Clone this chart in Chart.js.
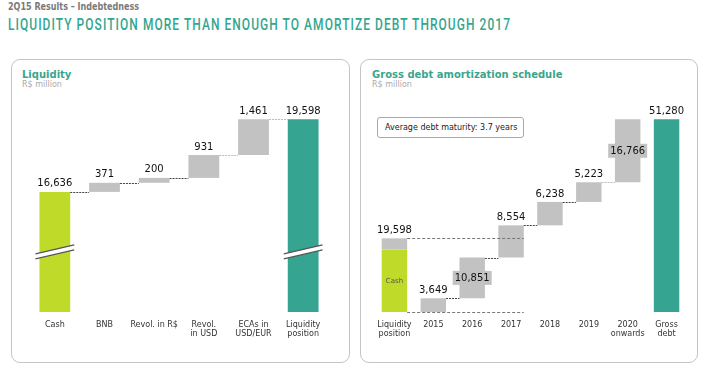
<!DOCTYPE html>
<html><head><meta charset="utf-8">
<script src="https://cdn.jsdelivr.net/npm/chart.js@4/dist/chart.umd.min.js"></script>
<style>
html,body{margin:0;padding:0;background:#fff;width:713px;height:381px;overflow:hidden;font-family:"DejaVu Sans",sans-serif;}
#hdr{position:absolute;left:8px;top:1px;font:bold 10.5px "DejaVu Sans",sans-serif;line-height:10.5px;color:#7a7a7a;white-space:nowrap;transform-origin:0 0;}
#title{position:absolute;left:8px;top:16px;font:500 17px "Roboto",sans-serif;line-height:17px;color:#33a690;letter-spacing:1.5px;white-space:nowrap;transform-origin:0 0;}
.panel{position:absolute;top:59px;height:302px;border:1px solid #c4c4c4;border-radius:9px;background:#fff;}
#p1{left:11px;width:337px;}
#p2{left:360px;width:336px;}
.ptitle{position:absolute;top:70px;font:bold 10px "DejaVu Sans";line-height:10px;color:#3aa58f;white-space:nowrap;}
.psub{position:absolute;top:81px;font:8px "DejaVu Sans";line-height:8px;color:#aaa;white-space:nowrap;}
canvas{position:absolute;}
#note{position:absolute;left:377px;top:117px;width:138px;height:19px;border:1px solid #a8a8a8;border-radius:3px;font:8px "DejaVu Sans";line-height:19px;color:#222;padding-left:7px;white-space:nowrap;background:#fff;}
</style></head>
<body>
<div id="hdr">2Q15 Results – Indebtedness</div>
<div id="title">LIQUIDITY POSITION MORE THAN ENOUGH TO AMORTIZE DEBT THROUGH 2017</div>
<div class="panel" id="p1"></div>
<div class="panel" id="p2"></div>
<div class="ptitle" style="left:22px">Liquidity</div>
<div class="psub" style="left:22px">R$ million</div>
<div class="ptitle" style="left:372px">Gross debt amortization schedule</div>
<div class="psub" style="left:372px">R$ million</div>
<canvas id="c1" width="337" height="300" style="left:12px;top:60px"></canvas>
<canvas id="c2" width="336" height="300" style="left:361px;top:60px"></canvas>
<div id="note">Average debt maturity: 3.7 years</div>
<script>
// ---- data: Liquidity ----
const liqLabels = ['Cash', 'BNB', 'Revol. in R$', ['Revol.', 'in USD'], ['ECAs in', 'USD/EUR'], ['Liquidity', 'position']];
const liqValues = [16636, 371, 200, 931, 1461, 19598];
const liqKinds = ['total', 'step', 'step', 'step', 'step', 'total'];
const liqAxisMin = 11740, liqAxisMax = 20790;

// ---- data: Gross debt amortization ----
const debtLabels = [['Liquidity', 'position'], '2015', '2016', '2017', '2018', '2019', ['2020', 'onwards'], ['Gross', 'debt']];
const debtValues = [19598, 3649, 10851, 8554, 6238, 5223, 16766, 51280];
const debtKinds = ['total', 'step', 'step', 'step', 'step', 'step', 'step', 'total'];
const debtCash = 16636;
const debtLabelInside = [false, false, true, false, false, false, true, false];
const debtAxisMax = 59070;

const GREEN = '#c0da2a', TEAL = '#35a591', GRAY = '#c2c2c2';
const fmt = v => v.toLocaleString('en-US');

function waterfall(values, kinds, startRun) {
  let run = startRun || 0; const out = [], tops = [];
  values.forEach((v, i) => {
    if (kinds[i] === 'total') { out.push(v); run = v; }
    else { out.push([run, run + v]); run += v; }
    tops.push(run);
  });
  return {data: out, tops};
}

function makeWf(o) {
  return {
    id: 'wf',
    afterDatasetsDraw(chart) {
      const ctx = chart.ctx, ys = chart.scales.y, meta = chart.getDatasetMeta(0).data;
      ctx.save();
      // axis breaks
      (o.breaks || []).forEach(i => {
        const b = meta[i]; const yc = (chart.chartArea.bottom + ys.getPixelForValue(o.breakRef)) / 2;
        const x0 = b.x - b.width / 2 - 4, x1 = b.x + b.width / 2 + 4, s = 4.5, g = 2.5;
        ctx.fillStyle = '#fff';
        ctx.beginPath(); ctx.moveTo(x0, yc + s - g); ctx.lineTo(x1, yc - s - g); ctx.lineTo(x1, yc - s + g); ctx.lineTo(x0, yc + s + g); ctx.closePath(); ctx.fill();
        ctx.strokeStyle = '#555'; ctx.lineWidth = 1.2;
        [-g, g].forEach(d => { ctx.beginPath(); ctx.moveTo(x0, yc + s + d); ctx.lineTo(x1, yc - s + d); ctx.stroke(); });
      });
      // connectors
      (o.connectors || []).forEach(c => {
        const a = meta[c.from], b = meta[c.to]; const py = Math.round(ys.getPixelForValue(c.value)) + 0.5;
        ctx.strokeStyle = c.color; ctx.lineWidth = 1; ctx.setLineDash(c.dash || [2, 1]);
        ctx.beginPath(); ctx.moveTo(a.x + a.width / 2, py); ctx.lineTo(c.toRight ? b.x + b.width / 2 : b.x - b.width / 2, py); ctx.stroke();
      });
      ctx.setLineDash([]);
      // value labels
      ctx.font = '10px "DejaVu Sans"'; ctx.textAlign = 'center';
      o.values.forEach((v, i) => {
        const b = meta[i]; const top = Math.min(b.y, b.base);
        if (o.inside && o.inside[i]) {
          const ym = (b.y + b.base) / 2; const w = ctx.measureText(fmt(v)).width + 4;
          ctx.fillStyle = GRAY; ctx.fillRect(b.x - w / 2, ym - 7, w, 14);
          ctx.fillStyle = '#111'; ctx.textBaseline = 'middle'; ctx.fillText(fmt(v), b.x, ym + 0.5);
        } else {
          ctx.fillStyle = '#111'; ctx.textBaseline = 'middle'; ctx.fillText(fmt(v), b.x, top - 8);
        }
      });
      if (o.cashText) {
        const c = chart.getDatasetMeta(1).data[0];
        ctx.font = '7px "DejaVu Sans"'; ctx.fillStyle = '#555'; ctx.textBaseline = 'middle';
        ctx.fillText(o.cashText, c.x, (c.y + c.base) / 2);
      }
      ctx.restore();
    }
  };
}

function baseOptions(pad, min, max) {
  return {
    responsive: false, animation: false,
    layout: {padding: pad},
    plugins: {legend: {display: false}, tooltip: {enabled: false}},
    scales: {
      x: {grid: {display: false, drawTicks: false}, border: {display: false},
          ticks: {color: '#333', font: {family: 'DejaVu Sans', size: 8}, padding: 8, maxRotation: 0, autoSkip: false}},
      y: {display: false, min: min, max: max}
    }
  };
}

// Liquidity chart
const liq = waterfall(liqValues, liqKinds);
const liqColors = liqKinds.map((k, i) => k === 'step' ? GRAY : (i === 0 ? GREEN : TEAL));
const liqConn = liq.tops.slice(0, -1).map((t, i) => ({from: i, to: i + 1, value: t, color: i < 3 ? '#444' : '#bbb'}));
new Chart(document.getElementById('c1'), {
  type: 'bar',
  data: {labels: liqLabels, datasets: [{data: liq.data, backgroundColor: liqColors, categoryPercentage: 1, barPercentage: 0.62}]},
  options: baseOptions({left: 18, right: 21, top: 30, bottom: 12.8}, liqAxisMin, liqAxisMax),
  plugins: [makeWf({values: liqValues, breaks: [0, 5], breakRef: liqValues[0], connectors: liqConn})]
});

// Debt chart
const debt = waterfall(debtValues.slice(1), debtKinds.slice(1), 0);
const debtData = [[debtCash, debtValues[0]]].concat(debt.data);
const debtColors = debtKinds.map((k, i) => i === debtKinds.length - 1 ? TEAL : GRAY);
const cashData = debtLabels.map((l, i) => i === 0 ? [0, debtCash] : null);
const debtConn = [
  {from: 0, to: 3, value: debtValues[0], color: '#777', dash: [3, 2], toRight: true},
  {from: 0, to: 3, value: 0, color: '#777', dash: [3, 2], toRight: true}
];
debt.tops.slice(0, -2).forEach((t, i) => debtConn.push({from: i + 1, to: i + 2, value: t, color: i === 4 ? '#bbb' : '#444'}));
new Chart(document.getElementById('c2'), {
  type: 'bar',
  data: {labels: debtLabels, datasets: [
    {data: debtData, backgroundColor: debtColors, categoryPercentage: 1, barPercentage: 0.655, grouped: false},
    {data: cashData, backgroundColor: GREEN, categoryPercentage: 1, barPercentage: 0.655, grouped: false}
  ]},
  options: baseOptions({left: 14, right: 11, top: 30, bottom: 12.8}, 0, debtAxisMax),
  plugins: [makeWf({values: debtValues, inside: debtLabelInside, connectors: debtConn, cashText: 'Cash'})]
});

// fit header widths
function fit(id, w) { const el = document.getElementById(id); const r = el.getBoundingClientRect().width; el.style.transform = 'scaleX(' + (w / r) + ')'; }
fit('title', 503); fit('hdr', 131);
</script>
</body></html>
